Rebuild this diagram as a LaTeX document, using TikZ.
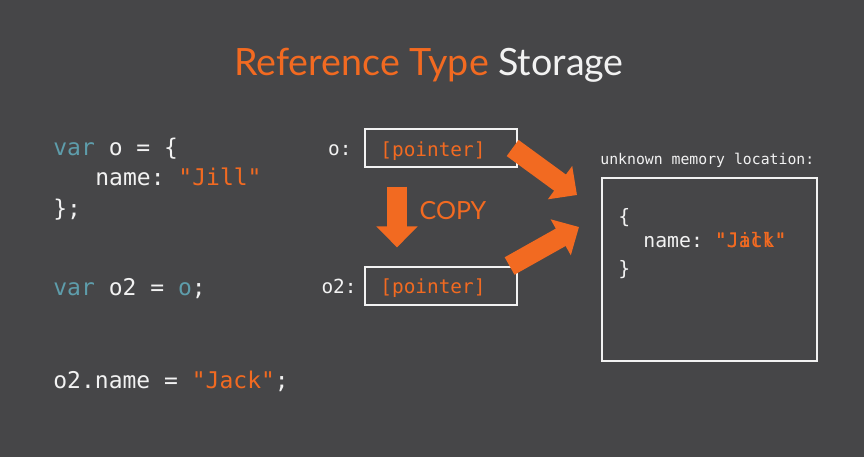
\documentclass[tikz,border=0pt]{standalone}
\usepackage{fontspec}
\setmainfont{Lato}
\setmonofont{DejaVu Sans Mono}
\usetikzlibrary{arrows.meta,positioning,calc}
\definecolor{bgcol}{HTML}{464648}
\definecolor{orng}{HTML}{F26A21}
\definecolor{teal}{HTML}{5E9DAB}
\definecolor{txt}{HTML}{F2F2F2}

\begin{document}
\begin{tikzpicture}[
  x=0.5pt, y=-0.5pt,
  code/.style={anchor=base west, inner sep=0pt, text=txt, font=\ttfamily\fontsize{11.5}{13}\selectfont},
  small/.style={anchor=base west, inner sep=0pt, text=txt, font=\ttfamily\fontsize{9.7}{11}\selectfont},
  ptrbox/.style={draw=txt, line width=0.6pt, minimum width=76pt, minimum height=19pt, inner sep=0pt},
  fatarrow/.style={orng, line width=10pt, -{Triangle[width=20pt, length=10.5pt]}},
]
  % Background
  \fill[bgcol] (0,0) rectangle (864,457);
  \useasboundingbox (0,0) rectangle (864,457);

  % Title
  \node[anchor=base, inner sep=0pt, font=\fontsize{18.8}{21}\selectfont] (title) at (429,75)
    {\textcolor{orng}{Reference Type} \textcolor{txt}{Storage}};

  % Code on the left
  \node[code] (line1) at (53,155) {\textcolor{teal}{var} o = \{};
  \node[code] (line2) at (95,185) {name: \textcolor{orng}{"Jill"}};
  \node[code] (line3) at (53,216) {\};};
  \node[code] (line4) at (53,295) {\textcolor{teal}{var} o2 = \textcolor{teal}{o};};
  \node[code] (line5) at (53,388) {o2.name = \textcolor{orng}{"Jack"};};

  % Variables
  \node[ptrbox] (ptro) at (441,148) {};
  \node[ptrbox] (ptrtwo) at (441,286) {};
  \node[small, text=orng] (valo) at (380,156) {[pointer]};
  \node[small, text=orng] (valtwo) at (380,293) {[pointer]};
  \node[small, anchor=base east] (nameo) at (352,155) {o:};
  \node[small, anchor=base east] (nametwo) at (357,293) {o2:};

  % Memory
  \node[draw=txt, line width=0.6pt, minimum width=107.5pt, minimum height=91.5pt, inner sep=0pt] (mem) at (709.5,269.5) {};
  \node[small, font=\ttfamily\fontsize{7.4}{9}\selectfont] (memlabel) at (600,164) {unknown memory location:};
  \node[small, font=\ttfamily\fontsize{9.9}{11}\selectfont] (open) at (618,223) {\{};
  \node[small, font=\ttfamily\fontsize{9.9}{11}\selectfont] (field) at (643,247) {name: \textcolor{orng}{"Jill"}};
  \node[small, font=\ttfamily\fontsize{9.9}{11}\selectfont] (fieldnew) at (643,247) {\phantom{name: }\textcolor{orng}{"Jack"}};
  \node[small, font=\ttfamily\fontsize{9.9}{11}\selectfont] (close) at (618,275) {\}};

  % Arrows
  \coordinate (tipone) at (577,195);
  \coordinate (tiptwo) at (579,227);
  \draw[fatarrow] ($(ptro.east)+(-5,0)$) -- (tipone);
  \draw[fatarrow] ($(ptrtwo.east)+(-8,-20)$) -- (tiptwo);
  \draw[fatarrow] ($(ptro.south)+(-44,19)$) -- ($(ptrtwo.north)+(-44,-19)$)
    node[pos=0.4, right=3pt, text=orng, font=\fontsize{12.5}{14}\selectfont] (copy) {COPY};
\end{tikzpicture}
\end{document}
